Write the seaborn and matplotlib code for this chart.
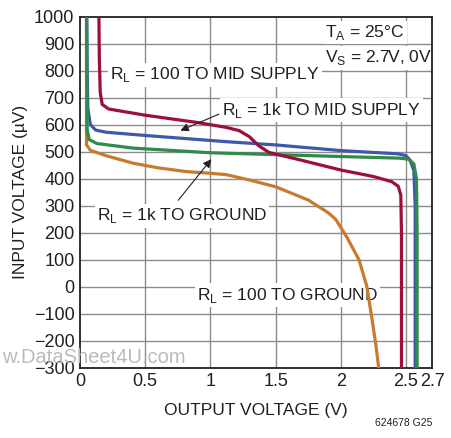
import matplotlib
matplotlib.use('Agg')
import matplotlib.pyplot as plt
import seaborn as sns
import pandas as pd

# curve data (x in V, y in uV)
red_x = [0.145, 0.148, 0.155, 0.17, 0.22, 0.5, 0.9, 1.12, 1.22, 1.3, 1.37, 1.45, 1.7, 2.0, 2.25, 2.39, 2.44, 2.46, 2.465, 2.465]
red_y = [1000, 850, 720, 675, 658, 635, 608, 590, 578, 555, 522, 497, 468, 432, 408, 389, 372, 340, 200, -300]

blue_x = [0.052, 0.055, 0.06, 0.08, 0.12, 0.2, 0.5, 1.12, 1.5, 2.0, 2.44, 2.5, 2.53, 2.56, 2.57, 2.57]
blue_y = [1000, 800, 660, 600, 580, 572, 560, 537, 525, 504, 492, 485, 469, 430, 300, -300]

green_x = [0.05, 0.052, 0.055, 0.07, 0.13, 0.41, 1.0, 2.0, 2.45, 2.52, 2.56, 2.58, 2.585, 2.585]
green_y = [1000, 800, 580, 545, 530, 513, 496, 482, 476, 472, 455, 400, 200, -300]

orange_x = [0.05, 0.05, 0.05, 0.08, 0.2, 0.41, 0.6, 0.82, 1.0, 1.12, 1.3, 1.5, 1.75, 1.9, 1.96, 2.05, 2.14, 2.2, 2.24, 2.27, 2.29]
orange_y = [1000, 545, 525, 505, 485, 457, 440, 426, 420, 415, 395, 370, 321, 275, 250, 180, 99, 0, -123, -220, -300]

x_ticks = [0, 0.5, 1, 1.5, 2, 2.5, 2.7]
x_ticklabels = ['0', '0.5', '1', '1.5', '2', '2.5', '2.7']
y_ticks = list(range(-300, 1001, 100))

sns.set_style('white')
plt.rcParams['font.family'] = ['Liberation Sans', 'DejaVu Sans']
plt.rcParams['mathtext.fontset'] = 'custom'
plt.rcParams['mathtext.rm'] = 'Liberation Sans'

fig = plt.figure(figsize=(4.52, 4.38), dpi=100)
ax = fig.add_axes([0.177, 0.1605, 0.779, 0.8015])

curves = [
    (orange_x, orange_y, '#C97A2E'),
    (blue_x, blue_y, '#3F58A8'),
    (green_x, green_y, '#2F8A4C'),
    (red_x, red_y, '#9C0F3C'),
]
for xs, ys, col in curves:
    df = pd.DataFrame({'x': xs, 'y': ys})
    sns.lineplot(data=df, x='x', y='y', sort=False, estimator=None, color=col,
                 linewidth=2.3, ax=ax, zorder=3)

ax.set_xlim(0, 2.7)
ax.set_ylim(-300, 1000)
ax.set_xticks(x_ticks)
ax.set_xticklabels(x_ticklabels)
ax.set_yticks(y_ticks)
ax.tick_params(length=0, labelsize=13, colors='#231F20', pad=4)
for v in [0.5, 1, 1.5, 2, 2.5]:
    ax.axvline(v, color='#8C8C8C', linewidth=1.0, zorder=1)
for v in y_ticks[1:-1]:
    ax.axhline(v, color='#8C8C8C', linewidth=1.0, zorder=1)
for s in ax.spines.values():
    s.set_color('#231F20')
    s.set_linewidth(1.3)

ax.set_xlabel('OUTPUT VOLTAGE (V)', fontsize=12.5, color='#231F20', labelpad=9)
ax.set_ylabel('INPUT VOLTAGE (\u00b5V)', fontsize=12.5, color='#231F20', labelpad=4)

box = dict(facecolor='white', edgecolor='none', pad=1.5)
tkw = dict(fontsize=12.5, color='#231F20', va='center', ha='left', bbox=box, zorder=2)
ax.text(1.88, 940, 'T$_\\mathregular{A}$ = 25\u00b0C', **tkw)
ax.text(1.88, 847, 'V$_\\mathregular{S}$ = 2.7V, 0V', **tkw)
ax.text(0.23, 784, 'R$_\\mathregular{L}$ = 100 TO MID SUPPLY', **tkw)
ax.text(1.09, 654, 'R$_\\mathregular{L}$ = 1k TO MID SUPPLY', **tkw)
ax.text(0.13, 262, 'R$_\\mathregular{L}$ = 1k TO GROUND', **tkw)
ax.text(0.9, -31, 'R$_\\mathregular{L}$ = 100 TO GROUND', **tkw)

akw = dict(arrowstyle='-|>', color='#231F20', lw=0.8, mutation_scale=12)
ax.annotate('', xy=(0.75, 574), xytext=(1.085, 643), arrowprops=akw, zorder=4)
ax.annotate('', xy=(1.02, 480), xytext=(0.74, 312), arrowprops=akw, zorder=4)

fig.text(0.004, 0.184, 'w.DataSheet4U.com', fontsize=14.5, color='#BBBBBB', va='center', zorder=5)
fig.text(0.956, 0.022, '624678 G25', fontsize=7.5, color='#231F20', ha='right', va='bottom')

fig.savefig('out.png', dpi=100)
